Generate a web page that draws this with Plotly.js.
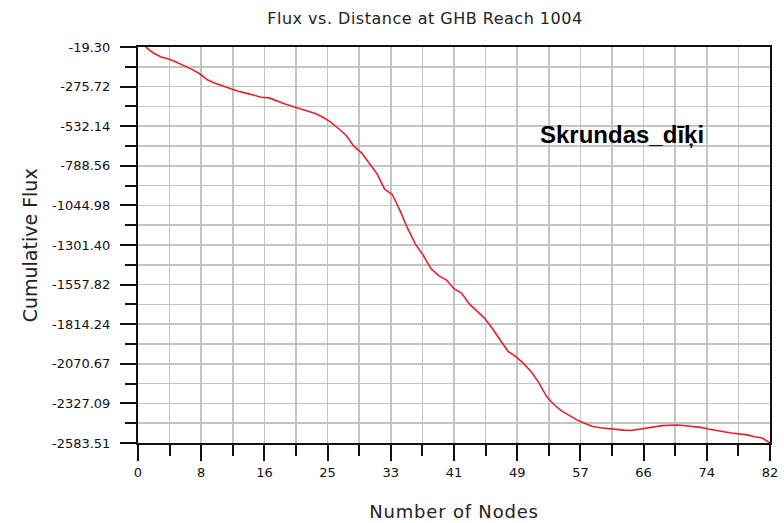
<!DOCTYPE html>
<html>
<head>
<meta charset="utf-8">
<script src="https://cdn.plot.ly/plotly-3.0.1.min.js"></script>
<style>
html,body{margin:0;padding:0;background:#fff;}
#chart{width:784px;height:523px;}
.gtitle{letter-spacing:0.5px;}
.xtitle{letter-spacing:0.8px;}
</style>
</head>
<body>
<div id="chart"></div>
<script>
// Node numbers (x) and cumulative flux values (y)
const nodes = [1,2,3,4,5,6,7,8,9,10,11,12,13,14,15,16,17,18,19,20,21,22,23,24,25,26,27,28,29,30,31,32,33,34,35,36,37,38,39,40,41,42,43,44,45,46,47,48,49,50,51,52,53,54,55,56,57,58,59,60,61,62,63,64,65,66,67,68,69,70,71,72,73,74,75,76,77,78,79,80,81,82];
const cumulativeFlux = [-19.30,-58.2,-84.1,-97.0,-117.7,-140.3,-164.3,-192.8,-231.7,-253.7,-272.5,-290.7,-305.5,-317.8,-330.8,-344.3,-348.9,-369.0,-387.1,-403.3,-419.5,-435.6,-450.5,-473.9,-505.6,-547.0,-590.4,-661.0,-704.4,-772.4,-839.1,-940.0,-974.4,-1079.3,-1195.9,-1295.6,-1366.8,-1454.2,-1499.6,-1526.8,-1584.4,-1614.1,-1684.7,-1730.0,-1777.9,-1843.9,-1918.4,-1989.7,-2023.3,-2068.0,-2120.5,-2192.3,-2281.0,-2336.1,-2376.9,-2408.6,-2435.1,-2456.5,-2476.6,-2484.4,-2490.9,-2496.1,-2500.0,-2502.6,-2493.5,-2485.1,-2477.3,-2470.8,-2468.8,-2466.8,-2472.0,-2477.3,-2482.5,-2492.8,-2503.2,-2511.0,-2518.7,-2523.3,-2531.0,-2543.3,-2551.1,-2583.51];

// Axis tick positions and labels
const xTickVals = [0,8.2,16.4,24.6,32.8,41,49.2,57.4,65.6,73.8,82];
const xTickText = ['0','8','16','25','33','41','49','57','66','74','82'];
const xMinorVals = [4.1,12.3,20.5,28.7,36.9,45.1,53.3,61.5,69.7,77.9];
const yTickVals = [-19.30,-275.72,-532.14,-788.56,-1044.98,-1301.40,-1557.82,-1814.24,-2070.67,-2327.09,-2583.51];
const yTickText = ['-19.30','-275.72','-532.14','-788.56','-1044.98','-1301.40','-1557.82','-1814.24','-2070.67','-2327.09','-2583.51'];
const yMinorVals = [-147.51,-403.93,-660.35,-916.77,-1173.19,-1429.61,-1686.03,-1942.45,-2198.88,-2455.30];

const titleText = 'Flux vs. Distance at GHB Reach 1004';
const xTitle = 'Number of Nodes';
const yTitle = 'Cumulative Flux';
const seriesLabel = 'Skrundas_dīķi';

const gridColor = '#c4c4c4';
const tickFont = {family: 'DejaVu Sans, sans-serif', size: 13, color: '#111'};

const trace = {
  x: nodes, y: cumulativeFlux, type: 'scatter', mode: 'lines',
  line: {color: '#e8202a', width: 1.6}, hoverinfo: 'skip', showlegend: false
};

const layout = {
  width: 784, height: 523,
  margin: {l: 138, r: 14, t: 47, b: 80, pad: 0},
  paper_bgcolor: '#fff', plot_bgcolor: '#fff',
  showlegend: false,
  title: {text: titleText, x: 0.542, xanchor: 'center', y: 0.965, yanchor: 'middle',
          font: {family: 'DejaVu Sans, sans-serif', size: 16, color: '#222'}},
  xaxis: {
    range: [0, 82], fixedrange: true,
    tickmode: 'array', tickvals: xTickVals, ticktext: xTickText,
    ticks: 'outside', ticklen: 16, tickwidth: 2, tickcolor: '#111',
    tickfont: tickFont,
    showgrid: true, gridcolor: gridColor, gridwidth: 1.7,
    minor: {tickmode: 'array', tickvals: xMinorVals, ticks: 'outside', ticklen: 11, tickwidth: 2, tickcolor: '#111',
            showgrid: true, gridcolor: gridColor, gridwidth: 1.7},
    showline: true, linecolor: '#111', linewidth: 2, mirror: true,
    zeroline: false,
    title: {text: xTitle, standoff: 27, font: {family: 'DejaVu Sans, sans-serif', size: 18, color: '#222'}}
  },
  yaxis: {
    range: [-2583.51, -19.30], fixedrange: true,
    tickmode: 'array', tickvals: yTickVals, ticktext: yTickText,
    ticks: 'outside', ticklen: 16, tickwidth: 2, tickcolor: '#111',
    tickfont: tickFont, ticklabelstandoff: 7,
    showgrid: true, gridcolor: gridColor, gridwidth: 1.7,
    minor: {tickmode: 'array', tickvals: yMinorVals, ticks: 'outside', ticklen: 11, tickwidth: 2, tickcolor: '#111',
            showgrid: true, gridcolor: gridColor, gridwidth: 1.7},
    showline: true, linecolor: '#111', linewidth: 2, mirror: true,
    zeroline: false
  },
  annotations: [
    {text: seriesLabel, xref: 'paper', yref: 'paper', x: 0.766, y: 0.78, xanchor: 'center', yanchor: 'middle',
     showarrow: false, font: {family: 'Liberation Sans, Arial, sans-serif', size: 24, color: '#000', weight: 'bold'}},
    {text: yTitle, xref: 'paper', yref: 'paper', x: -0.171, y: 0.499, xanchor: 'center', yanchor: 'middle',
     textangle: -90, showarrow: false, font: {family: 'DejaVu Sans, sans-serif', size: 19, color: '#222'}}
  ]
};

Plotly.newPlot('chart', [trace], layout, {staticPlot: true, displayModeBar: false});
</script>
</body>
</html>
